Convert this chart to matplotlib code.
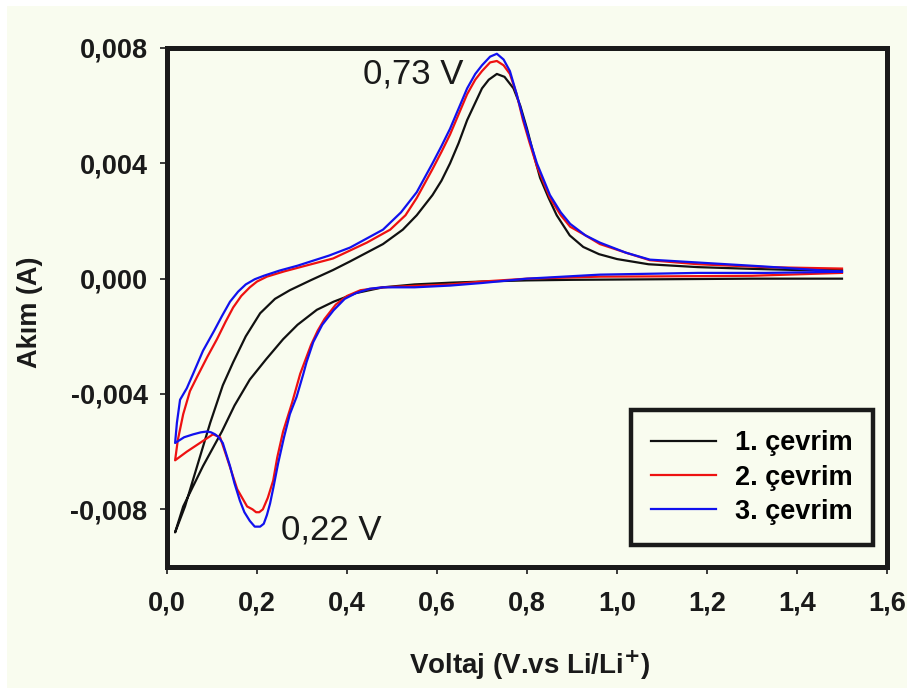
import matplotlib
matplotlib.use("Agg")
import matplotlib.pyplot as plt
import matplotlib.patches as mpatches
from matplotlib.ticker import FuncFormatter, MultipleLocator

plt.rcParams['font.family'] = ['Liberation Sans', 'DejaVu Sans']

# cycle 1 (black): cathodic 1.5 -> 0.018 V, then anodic back to 1.5 V
v1 = [1.5, 1.3, 1.1, 0.9, 0.8, 0.7, 0.629, 0.55, 0.48, 0.42, 0.37, 0.333, 0.29, 0.258, 0.22,
      0.184, 0.15, 0.122, 0.08, 0.036, 0.018,
      0.04, 0.067, 0.096, 0.124, 0.147, 0.175, 0.207, 0.24, 0.273, 0.32, 0.369, 0.407, 0.48,
      0.524, 0.555, 0.59, 0.61, 0.629, 0.648, 0.667, 0.685, 0.70, 0.715, 0.733, 0.75, 0.77,
      0.785, 0.80, 0.815, 0.829, 0.848, 0.866, 0.895, 0.925, 0.96, 1.0,
      1.07, 1.18, 1.3, 1.4, 1.5]
i1 = [0.0, 0.0, -0.00002, -0.00004, -0.00006, -0.0001, -0.00014, -0.0002, -0.0003, -0.0005,
      -0.0008, -0.00108, -0.0016, -0.0021, -0.0028, -0.0035, -0.0044, -0.0053, -0.0065,
      -0.0079, -0.0088,
      -0.0079, -0.0065, -0.005, -0.0037, -0.0029, -0.002, -0.0012, -0.0007, -0.0004, -0.00005,
      0.0003, 0.0006, 0.0012, 0.0017, 0.0022, 0.0029, 0.0034, 0.004, 0.0047, 0.0055, 0.0061,
      0.0066, 0.0069, 0.0071, 0.0070, 0.0066, 0.006, 0.0052, 0.0043, 0.0035, 0.0028, 0.0022,
      0.0015, 0.0011, 0.00085, 0.00068, 0.0005, 0.0004, 0.00034, 0.0003, 0.0003]

# cycle 2 (red)
v2 = [1.5, 1.3, 1.1, 0.962, 0.8, 0.7, 0.629, 0.55, 0.48, 0.43, 0.40, 0.375, 0.35, 0.335,
      0.32, 0.308, 0.296, 0.278, 0.258, 0.245, 0.236, 0.224, 0.213, 0.205, 0.198, 0.19, 0.178,
      0.156, 0.133, 0.118, 0.102, 0.073, 0.044, 0.018,
      0.024, 0.036, 0.051, 0.067, 0.09, 0.111, 0.13, 0.147, 0.165, 0.184, 0.2, 0.222, 0.26,
      0.296, 0.369, 0.444, 0.496, 0.53, 0.555, 0.59, 0.61, 0.629, 0.648, 0.667, 0.685, 0.70,
      0.718, 0.733, 0.748, 0.762, 0.777, 0.791, 0.806, 0.822, 0.851, 0.875, 0.896, 0.93,
      0.962, 1.02, 1.073, 1.18, 1.33, 1.5]
i2 = [0.0002, 0.0001, 0.00008, 0.00007, 0.0, -0.0001, -0.0002, -0.00025, -0.0003, -0.0004,
      -0.0006, -0.0009, -0.0014, -0.0018, -0.0023, -0.0028, -0.0033, -0.0043, -0.0053,
      -0.0062, -0.007, -0.0076, -0.008, -0.0081, -0.0081, -0.008, -0.0079,
      -0.0073, -0.0062, -0.0055, -0.0054, -0.0057, -0.006, -0.0063,
      -0.0056, -0.0047, -0.0039, -0.0034, -0.0027, -0.0021, -0.0015, -0.001, -0.0006,
      -0.0003, -0.0001, 0.00007, 0.00025, 0.0004, 0.0007, 0.00125, 0.0017, 0.0022, 0.0028,
      0.0038, 0.0044, 0.005, 0.0057, 0.0064, 0.0069, 0.0072, 0.0075, 0.00755, 0.0074, 0.0071,
      0.0064, 0.0055, 0.0047, 0.0039, 0.0028, 0.0022, 0.0018, 0.0015, 0.0012, 0.0009,
      0.00064, 0.0005, 0.0004, 0.00035]

# cycle 3 (blue)
v3 = [1.5, 1.33, 1.18, 0.962, 0.8, 0.7, 0.629, 0.55, 0.48, 0.45, 0.42, 0.395, 0.37, 0.345,
      0.325, 0.31, 0.303, 0.288, 0.273, 0.26, 0.247, 0.237, 0.229, 0.222, 0.215, 0.207,
      0.2, 0.195, 0.184, 0.172, 0.162, 0.15, 0.14, 0.13, 0.124, 0.115, 0.107, 0.098, 0.089,
      0.075, 0.058, 0.038, 0.018,
      0.022, 0.029, 0.044, 0.058, 0.08, 0.105, 0.122, 0.14, 0.158, 0.175, 0.195, 0.215,
      0.25, 0.29, 0.36, 0.407, 0.48, 0.52, 0.555, 0.59, 0.61, 0.629, 0.648, 0.667, 0.685,
      0.70, 0.718, 0.733, 0.748, 0.762, 0.777, 0.791, 0.806, 0.822, 0.851, 0.875, 0.896,
      0.93, 0.962, 1.02, 1.073, 1.18, 1.33, 1.5]
i3 = [0.00024, 0.0002, 0.0002, 0.00014, 0.0, -0.00015, -0.00024, -0.0003, -0.0003, -0.00035,
      -0.0005, -0.0007, -0.0011, -0.0016, -0.0022, -0.0029, -0.0033, -0.0041, -0.0047,
      -0.0055, -0.0064, -0.0072, -0.0078, -0.0082, -0.0085, -0.0086, -0.0086, -0.0086,
      -0.0084, -0.0081, -0.0077, -0.0071, -0.0065, -0.0060, -0.0057, -0.0055, -0.0054,
      -0.00533, -0.0053, -0.00533, -0.0054, -0.0055, -0.0057,
      -0.005, -0.0042, -0.0038, -0.0033, -0.0025, -0.0018, -0.0013, -0.0008, -0.00045,
      -0.0002, -0.00002, 0.0001, 0.00028, 0.00045, 0.0008, 0.00108, 0.0017, 0.0023, 0.003,
      0.004, 0.0046, 0.0052, 0.0059, 0.0066, 0.0071, 0.0074, 0.0077, 0.0078, 0.0076, 0.0072,
      0.0064, 0.0056, 0.0048, 0.004, 0.0029, 0.0023, 0.0019, 0.0015, 0.00125, 0.0009,
      0.00066, 0.00056, 0.00042, 0.00024]

labels = ['1. çevrim', '2. çevrim', '3. çevrim']
colors = ['#111111', '#ee1111', '#1111ee']

cream = '#f9fcef'
fig = plt.figure(figsize=(9.07, 6.88), dpi=100, facecolor='white')
fig.patches.append(mpatches.Rectangle((7 / 907, 0), 1, 1 - 6 / 688, transform=fig.transFigure,
                                      facecolor=cream, edgecolor='none', zorder=-10))
ax = fig.add_axes([167 / 907, 1 - 567 / 688, 720 / 907, 519 / 688])
ax.set_facecolor(cream)

for vv, ii, c, lb in zip([v1, v2, v3], [i1, i2, i3], colors, labels):
    ax.plot(vv, ii, color=c, lw=1.6, label=lb)

ax.set_xlim(0, 1.6)
ax.set_ylim(-0.010, 0.008)
ax.xaxis.set_major_locator(MultipleLocator(0.2))
ax.yaxis.set_major_locator(MultipleLocator(0.004))
ax.xaxis.set_major_formatter(FuncFormatter(lambda x, p: ('%.1f' % x).replace('.', ',')))
ax.yaxis.set_major_formatter(FuncFormatter(lambda y, p: ('%.3f' % (0 if abs(y) < 1e-9 else y)).replace('.', ',')))

for s in ax.spines.values():
    s.set_linewidth(3.6)
    s.set_color('#1a1a1a')
ax.tick_params(axis='both', direction='out', length=5, width=1.2, colors='#1a1a1a',
               labelsize=19.5)
ax.tick_params(axis='y', pad=9)
ax.tick_params(axis='x', pad=12)
for t in ax.get_xticklabels() + ax.get_yticklabels():
    t.set_fontweight('bold')

fig.text(530 / 907, 1 - 665 / 688, 'Voltaj (V.vs Li/Li$^{\\mathbf{+}}$)', fontsize=20,
         fontweight='bold', ha='center', va='center', color='#1a1a1a')
fig.text(30 / 907, 1 - 312 / 688, 'Akım (A)', fontsize=19.5, fontweight='bold',
         rotation=90, ha='center', va='center', color='#1a1a1a')

ax.text(0.547, 0.0071, '0,73 V', fontsize=25, ha='center', va='center', color='#1a1a1a')
ax.text(0.364, -0.00873, '0,22 V', fontsize=25, ha='center', va='center', color='#1a1a1a')

leg = ax.legend(loc='lower right', bbox_to_anchor=(0.9806, 0.0424), borderaxespad=0,
                prop={'weight': 'bold', 'size': 19.5}, frameon=True, fancybox=False,
                edgecolor='#1a1a1a', facecolor=cream, framealpha=1, handlelength=2.4,
                labelspacing=0.3, borderpad=0.75, handletextpad=0.7)
leg.get_frame().set_linewidth(3.2)

fig.savefig('out.png', dpi=100, facecolor=fig.get_facecolor())
